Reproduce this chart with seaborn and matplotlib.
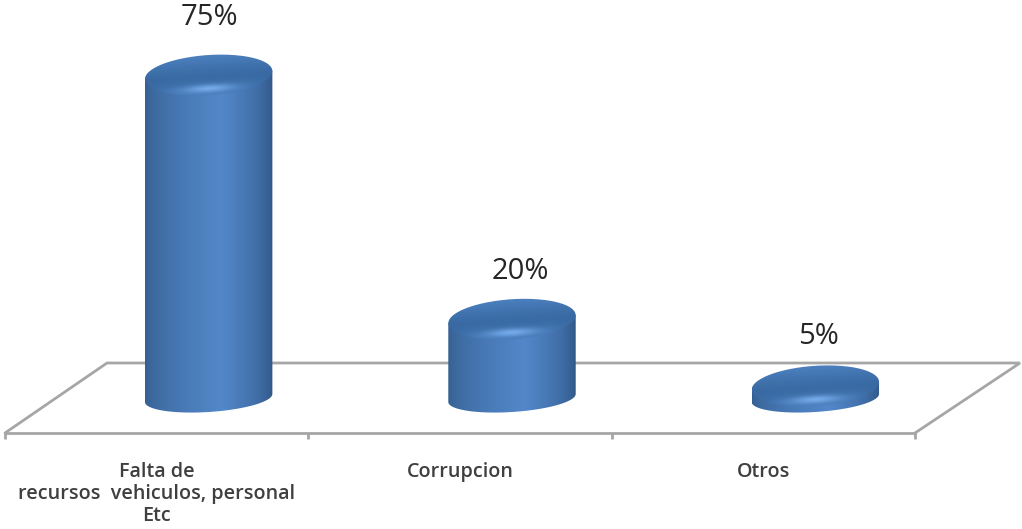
import numpy as np
import pandas as pd
import matplotlib
matplotlib.use("Agg")
import matplotlib.pyplot as plt
from matplotlib.colors import to_rgb
from matplotlib.path import Path
from matplotlib.transforms import Affine2D
import seaborn as sns

categories = ["Falta de\nrecursos  vehiculos, personal\nEtc", "Corrupcion", "Otros"]
values = [75, 20, 5]
value_labels = ["75%", "20%", "5%"]

W, H = 1022, 529
sns.set_theme(style="white")
plt.rcParams["font.family"] = ["Open Sans", "DejaVu Sans"]
fig = plt.figure(figsize=(W / 100, H / 100), dpi=100, facecolor="white")

# plot box: its bottom spine is the front edge of the floor
ax = fig.add_axes([5 / W, (H - 433) / H, 910 / W, 433 / H])
df = pd.DataFrame({"cat": categories, "val": values})
sns.barplot(data=df, x="cat", y="val", ax=ax, color="#4a7ebb", width=0.42, saturation=1)

PX_Y = 4.44                 # pixels per percent
ylim = (-25 / PX_Y, 408 / PX_Y)
PX_X = 910 / 3              # pixels per category
xlim = (-0.5, 2.5)
DEPTH = 52 / PX_X           # bars stand back on the floor
ax.set_facecolor("none")
sns.despine(ax=ax, left=True, top=True, right=True)
ax.spines["bottom"].set_color("#a6a6a6")
ax.spines["bottom"].set_linewidth(2.0)
ax.set_xlabel("")
ax.set_ylabel("")
ax.set_yticks([])
ax.set_xticks([0, 1, 2], categories)
ax.tick_params(axis="x", which="major", length=0, pad=21, labelsize=14.2, labelcolor="#3f3f3f")
for t in ax.get_xticklabels():
    t.set_fontweight("semibold")
    t.set_linespacing(1.12)
    t.set_clip_on(False)
ax.set_xticks([-0.5, 0.5, 1.5, 2.5], minor=True)
ax.tick_params(axis="x", which="minor", length=4, width=2, color="#a6a6a6", bottom=True)

# floor outline, in picture pixels
px = Affine2D().scale(1 / W, -1 / H).translate(0, 1) + fig.transFigure
ax.plot([5, 107, 1020, 915], [433, 363, 363, 433], color="#a6a6a6", lw=2.0,
        transform=px, clip_on=False, zorder=1, solid_joinstyle="miter")

dark_l, mid, dark_r = map(np.array, map(to_rgb, ["#355f90", "#5287c9", "#2f5585"]))


def sheared(cx, cy, a, b, s, t):
    x = cx + a * np.cos(t)
    return x, cy + b * np.sin(t) + s * (x - cx)


B_TOP = 20 / PX_Y
B_BOT = 14 / PX_Y
BASE = 10 / PX_Y            # bottom ellipse centre above the zero line
SHEAR = (8 / 128) * PX_X / PX_Y

offsets = [(0.5, 31), (6, 24), (2, 25)]
for patch, label, off in zip(list(ax.patches), value_labels, offsets):
    v = patch.get_height()
    w = patch.get_width()
    cx = patch.get_x() + w / 2 + DEPTH
    a = w / 2
    patch.set_visible(False)

    # body outline: lower half of bottom ellipse, then up to the top ellipse centre line
    t = np.linspace(np.pi, 2 * np.pi, 60)
    xb, yb = sheared(cx, BASE, a, B_BOT, SHEAR, t)
    xt, yt = sheared(cx, v, a, 0, SHEAR, np.array([0.0, np.pi]))
    body = Path(np.column_stack([np.r_[xb, xt, xb[0]], np.r_[yb, yt, yb[0]]]))
    g = np.linspace(0, 1, 128)
    k = np.where(g < 0.6, g / 0.6, (1 - g) / 0.4)[None, :, None]
    left = np.where(g < 0.6, 1.0, 0.0)[None, :, None]
    rgb = (dark_l * left + dark_r * (1 - left)) * (1 - k ** 0.6) + mid * k ** 0.6
    im = ax.imshow(rgb, extent=(cx - a, cx + a, -10, 90), aspect="auto", zorder=3,
                   interpolation="bilinear")
    im.set_clip_path(body, transform=ax.transData)

    # top cap
    t = np.linspace(0, 2 * np.pi, 160)
    xc, yc = sheared(cx, v, a, B_TOP, SHEAR, t)
    cap = Path(np.column_stack([xc, yc]))
    span = B_TOP + abs(SHEAR) * a
    X, Y = np.meshgrid(np.linspace(cx - a, cx + a, 160), np.linspace(v + span, v - span, 80))
    U = (X - cx) / a
    V = (Y - v - SHEAR * (X - cx)) / B_TOP
    c0 = np.array(to_rgb("#3a6ba4"))
    c1 = np.array(to_rgb("#4a7ebc"))
    hi = np.array(to_rgb("#74aaea"))
    m = np.clip(np.abs(V + 0.1) ** 1.4, 0, 1)[..., None]
    col = c0 * (1 - m) + c1 * m
    side = np.clip((np.abs(U) - 0.6) / 0.4, 0, 1)[..., None] * np.clip(-V + 0.3, 0, 1)[..., None]
    col = col * (1 - 0.3 * side) + np.array(to_rgb("#2f5a8e")) * 0.3 * side
    h = (np.exp(-((V + 0.68) / 0.2) ** 2) * np.exp(-(U / 0.4) ** 2))[..., None]
    col = col * (1 - h) + hi * h
    im2 = ax.imshow(col, extent=(cx - a, cx + a, v - span, v + span), aspect="auto",
                    zorder=4, interpolation="bilinear")
    im2.set_clip_path(cap, transform=ax.transData)

    ax.annotate(label, xy=(cx, v), xytext=off, textcoords="offset points",
                ha="center", va="bottom", fontsize=21, color="#262626",
                annotation_clip=False, zorder=6)

ax.set_xlim(*xlim)
ax.set_ylim(*ylim)
fig.savefig("out.png", dpi=100, facecolor="white")
